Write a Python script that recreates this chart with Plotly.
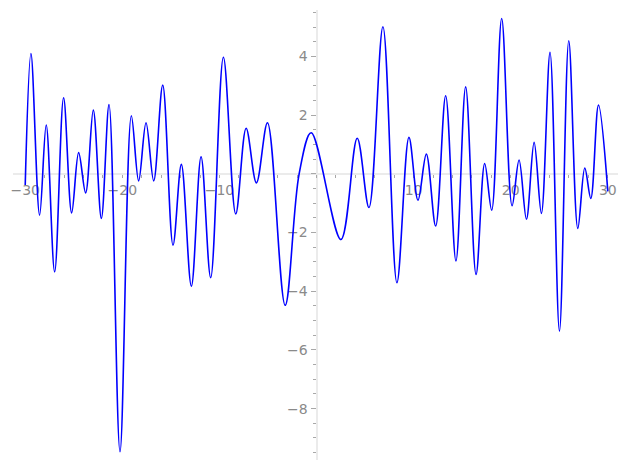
import plotly.graph_objects as go

# Curve (turning points plus endpoints)
x_vals = [-30.0, -29.41, -28.52, -27.84, -26.97, -26.05, -25.22, -24.50, -23.78, -22.99,
          -22.16, -21.37, -20.24, -19.07, -18.32, -17.56, -16.77, -15.84, -14.78, -13.92,
          -12.89, -11.89, -10.90, -9.59, -8.32, -7.25, -6.19, -5.05, -3.23, -1.79,
          -0.55, 2.51, 4.19, 5.40, 6.84, 8.28, 9.52, 10.45, 11.31, 12.27,
          13.30, 14.36, 15.36, 16.43, 17.32, 18.04, 19.07, 20.14, 20.86, 21.62,
          22.41, 23.16, 24.05, 25.02, 25.98, 26.91, 27.63, 28.25, 29.04, 30.0]
y_vals = [-0.38, 4.10, -1.41, 1.66, -3.34, 2.59, -1.33, 0.72, -0.65, 2.17,
          -1.52, 2.36, -9.47, 1.98, -0.24, 1.74, -0.24, 3.02, -2.43, 0.32,
          -3.83, 0.58, -3.54, 3.97, -1.37, 1.55, -0.31, 1.74, -4.48, 0.0,
          1.40, -2.24, 1.21, -1.15, 5.01, -3.71, 1.24, -0.90, 0.67, -1.78,
          2.66, -2.97, 2.96, -3.43, 0.35, -1.24, 5.29, -1.09, 0.47, -1.55,
          1.07, -1.35, 4.14, -5.36, 4.53, -1.86, 0.20, -0.84, 2.34, -0.60]

x_tickvals = [-30, -20, -10, 0, 10, 20, 30]
x_ticktext = ["\u221230", "\u221220", "\u221210", "", "10", "20", "30"]
y_tickvals = [-8, -6, -4, -2, 0, 2, 4]
y_ticktext = ["\u22128", "\u22126", "\u22124", "\u22122", "", "2", "4"]

X_RANGE = [-31.26, 31.05]
Y_RANGE = [-9.75, 5.58]

AXIS_LINE = "#ebebeb"
TICK_COL = "#a8a8a8"
LABEL_COL = "#8a8a8a"

fig = go.Figure()
fig.add_trace(go.Scatter(
    x=x_vals, y=y_vals, mode="lines",
    line=dict(color="#0000ff", width=1.6, shape="spline", smoothing=1.0),
    hoverinfo="skip", showlegend=False,
))

x_pos = (0 - Y_RANGE[0]) / (Y_RANGE[1] - Y_RANGE[0])
y_pos = (0 - X_RANGE[0]) / (X_RANGE[1] - X_RANGE[0])

fig.update_layout(
    width=627, height=470,
    margin=dict(l=5, r=17, t=2, b=18, autoexpand=False),
    paper_bgcolor="white", plot_bgcolor="white",
    font=dict(family="DejaVu Sans", size=14, color=LABEL_COL),
    xaxis=dict(
        range=X_RANGE, anchor="free", position=x_pos, automargin=False,
        showgrid=False, zeroline=False, layer="below traces",
        showline=True, linecolor=AXIS_LINE, linewidth=2,
        tickmode="array", tickvals=x_tickvals, ticktext=x_ticktext,
        ticks="outside", ticklen=3, tickwidth=1, tickcolor=TICK_COL,
        tickfont=dict(color=LABEL_COL, size=14),
        minor=dict(tickmode="linear", tick0=0, dtick=2, ticks="outside",
                   ticklen=3, tickwidth=1, tickcolor=TICK_COL),
    ),
    yaxis=dict(
        range=Y_RANGE, anchor="free", position=y_pos, automargin=False,
        showgrid=False, zeroline=False, layer="below traces",
        showline=True, linecolor=AXIS_LINE, linewidth=2,
        tickmode="array", tickvals=y_tickvals, ticktext=y_ticktext,
        ticks="outside", ticklen=5, tickwidth=1, tickcolor=TICK_COL,
        tickfont=dict(color=LABEL_COL, size=14),
        minor=dict(tickmode="linear", tick0=0, dtick=0.5, ticks="outside",
                   ticklen=3, tickwidth=1, tickcolor=TICK_COL),
    ),
)

fig.write_html("out.html")
